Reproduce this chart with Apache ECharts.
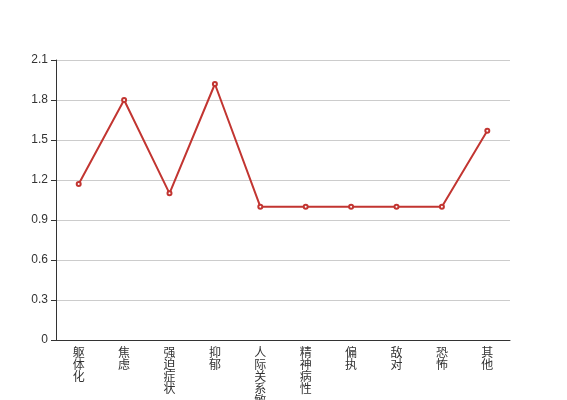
<!DOCTYPE html>
<html><head><meta charset="utf-8">
<script src="https://cdn.jsdelivr.net/npm/echarts@6/dist/echarts.min.js"></script>
<style>html,body{margin:0;padding:0;background:#fff}#c{width:567px;height:400px}</style>
</head><body><div id="c"></div>
<script>
var categories = ['躯体化','焦虑','强迫症状','抑郁','人际关系敏感','精神病性','偏执','敌对','恐怖','其他'];
var values = [1.17, 1.80, 1.10, 1.92, 1.00, 1.00, 1.00, 1.00, 1.00, 1.57];
var yTicks = {min: 0, max: 2.1, interval: 0.3};

var chart = echarts.init(document.getElementById('c'), null, {renderer: 'canvas'});
chart.setOption({
  animation: false,
  textStyle: {fontFamily: 'Liberation Sans, Noto Sans CJK SC, sans-serif'},
  grid: {left: 56, right: 57, top: 60, bottom: 60, containLabel: false, outerBoundsMode: 'none'},
  xAxis: {
    type: 'category',
    data: categories,
    boundaryGap: true,
    axisLine: {lineStyle: {color: '#333'}},
    axisTick: {lineStyle: {color: '#333'}},
    axisLabel: {
      color: '#333', fontSize: 12, lineHeight: 12, interval: 0, margin: 8,
      formatter: function (v) { return v.split('').join('\n'); }
    }
  },
  yAxis: {
    type: 'value',
    min: yTicks.min, max: yTicks.max, interval: yTicks.interval,
    axisLine: {show: true, lineStyle: {color: '#333'}},
    axisTick: {show: true, lineStyle: {color: '#333'}},
    axisLabel: {color: '#333', fontSize: 12, formatter: function (v) { return String(Math.round(v * 10) / 10); }},
    splitLine: {lineStyle: {color: '#ccc'}}
  },
  series: [{
    type: 'line',
    data: values,
    symbol: 'emptyCircle',
    symbolSize: 4,
    itemStyle: {color: '#c23531'},
    lineStyle: {color: '#c23531', width: 2}
  }]
});
</script></body></html>
